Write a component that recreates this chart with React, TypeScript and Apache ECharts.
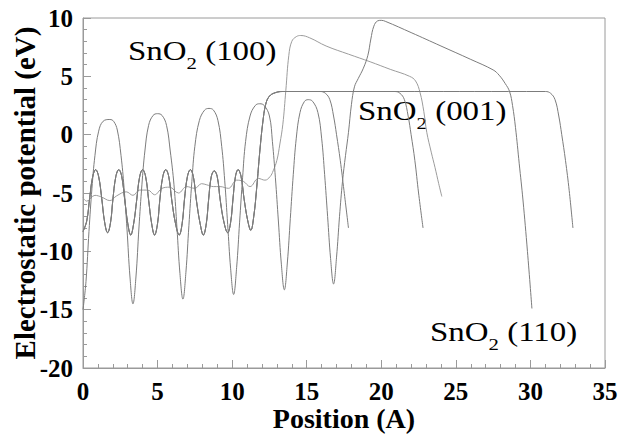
import React, { useEffect, useRef } from "react";
import * as echarts from "echarts";

// ---- data ----
const xTicks = [0, 5, 10, 15, 20, 25, 30, 35];
const yTicks = [-20, -15, -10, -5, 0, 5, 10];

// SnO2 (110): big oscillations, then surface and vacuum
const curve110: [number, number][] = [
  [0, -15.0], [0.2, -12.6], [0.4, -8.3], [0.6, -4.6], [0.8, -1.8], [1.05, 0.3], [1.35, 1.15], [1.8, 1.3],
  [2.05, 1.15], [2.3, 0.4], [2.55, -1.8], [2.75, -4.5], [2.95, -8.1], [3.15, -12.2], [3.35, -14.5],
  [3.55, -12.2], [3.75, -8.0], [3.95, -4.3], [4.15, -1.4], [4.4, 0.8], [4.7, 1.65], [5.0, 1.8],
  [5.3, 1.65], [5.6, 0.8], [5.85, -1.4], [6.1, -4.3], [6.3, -8.0], [6.5, -11.9], [6.7, -14.1],
  [6.9, -11.8], [7.1, -7.8], [7.3, -4.0], [7.5, -1.0], [7.8, 1.2], [8.15, 2.1], [8.45, 2.25],
  [8.75, 2.1], [9.05, 1.2], [9.3, -1.0], [9.5, -3.9], [9.7, -7.7], [9.9, -11.5], [10.1, -13.7],
  [10.3, -11.4], [10.5, -7.5], [10.7, -3.7], [10.9, -0.6], [11.2, 1.6], [11.55, 2.5], [11.85, 2.65],
  [12.15, 2.5], [12.5, 1.6], [12.7, -0.6], [12.9, -3.7], [13.1, -7.4], [13.3, -11.1], [13.5, -13.3],
  [13.7, -11.0], [13.9, -7.2], [14.1, -3.4], [14.3, -0.3], [14.55, 1.9], [14.85, 2.85], [15.1, 3.0],
  [15.4, 2.85], [15.75, 1.9], [16.0, -0.3], [16.2, -3.4], [16.4, -7.0], [16.6, -10.6], [16.8, -12.8],
  [17.0, -10.5], [17.2, -7.0], [17.4, -4.0], [17.6, -1.8], [17.8, 0.2], [18.0, 2.6], [18.2, 4.1],
  [18.45, 4.8], [18.8, 5.7], [19.1, 6.8], [19.3, 8.2], [19.5, 9.3], [19.75, 9.75], [20.0, 9.8],
  [20.3, 9.7], [22.0, 8.75], [24.0, 7.6], [26.0, 6.45], [27.5, 5.55], [27.9, 5.1], [28.3, 4.4],
  [28.6, 3.7], [28.8, 2.5], [29.0, 0.6], [29.25, -2.5], [29.5, -5.6], [29.8, -10.0], [30.1, -14.9],
];

// SnO2 (100): small ripples near -5, then surface and vacuum
const curve100: [number, number][] = [
  [0, -5.4], [0.25, -5.7], [0.8, -5.2], [1.25, -5.35], [1.8, -5.65], [2.25, -5.25], [2.9, -4.9],
  [3.35, -5.2], [3.8, -4.75], [4.35, -4.75], [4.8, -5.15], [5.3, -4.6], [5.8, -4.5], [6.4, -5.0],
  [6.95, -4.45], [7.5, -4.6], [7.95, -4.2], [8.3, -4.3], [8.74, -4.45], [9.19, -4.45], [9.75, -4.6],
  [10.3, -3.9], [10.75, -4.0], [11.2, -4.45], [11.76, -3.75], [12.2, -3.9], [12.54, -3.6],
  [12.75, -3.1], [13.0, -2.2], [13.2, -0.8], [13.4, 0.9], [13.6, 3.8], [13.8, 6.8], [14.0, 8.0],
  [14.3, 8.4], [14.6, 8.5], [15.2, 8.3], [16.3, 7.6], [17.8, 6.9], [19.25, 6.25], [20.6, 5.6],
  [21.9, 5.0], [22.3, 4.6], [22.6, 3.6], [22.85, 2.0], [23.05, 0.2], [23.35, -1.5], [23.6, -2.8],
  [23.85, -4.2], [24.06, -5.3],
];

// SnO2 (001): slab part shared by the three cells
const slab001: [number, number][] = [
  [0, -8.3], [0.25, -7.4], [0.45, -5.4], [0.65, -3.6], [0.85, -3.0], [1.05, -3.6], [1.25, -5.4], [1.45, -7.5], [1.65, -8.4],
  [1.85, -7.5], [2.0, -5.6], [2.2, -3.6], [2.4, -3.0], [2.6, -3.6], [2.8, -5.6], [3.0, -7.6], [3.2, -8.6],
  [3.4, -7.6], [3.6, -5.6], [3.8, -3.6], [4.0, -3.0], [4.2, -3.6], [4.4, -5.6], [4.6, -7.6], [4.8, -8.6],
  [5.0, -7.6], [5.15, -5.6], [5.35, -3.6], [5.55, -3.0], [5.75, -3.6], [5.95, -5.6], [6.2, -7.6], [6.45, -8.6],
  [6.65, -7.6], [6.8, -5.6], [7.0, -3.6], [7.2, -3.0], [7.4, -3.6], [7.6, -5.6], [7.85, -7.6], [8.07, -8.6],
  [8.27, -7.6], [8.42, -5.6], [8.6, -3.6], [8.8, -3.1], [9.0, -3.6], [9.2, -5.6], [9.45, -7.5], [9.7, -8.4],
  [9.9, -7.5], [10.05, -5.6], [10.22, -3.6], [10.4, -3.0], [10.6, -3.6], [10.8, -5.5], [11.05, -7.4], [11.25, -8.2],
  [11.45, -7.0], [11.65, -4.5], [11.85, -1.5], [12.05, 1.0], [12.25, 2.6], [12.5, 3.3], [12.9, 3.6], [13.4, 3.7],
];
const tail001a: [number, number][] = [
  [15.9, 3.7], [16.25, 3.55], [16.55, 3.0], [16.8, 1.6], [17.0, 0.0], [17.25, -2.2], [17.5, -4.8], [17.8, -8.0],
];
const tail001b: [number, number][] = [
  [20.9, 3.7], [21.25, 3.55], [21.55, 3.0], [21.8, 1.6], [22.0, 0.0], [22.25, -2.2], [22.5, -5.0], [22.8, -8.0],
];
const tail001c: [number, number][] = [
  [31.0, 3.7], [31.35, 3.55], [31.65, 3.0], [31.9, 1.6], [32.1, 0.0], [32.35, -2.2], [32.6, -4.8], [32.85, -8.0],
];

const labels = [
  { miller: "(100)", x: 128, baseline: 60 },
  { miller: "(001)", x: 358, baseline: 120 },
  { miller: "(110)", x: 430, baseline: 341 },
];

const SERIF = "Liberation Serif";

function labelGraphic(miller: string, x: number, baseline: number) {
  const f = 27;
  const fs = 17;
  const base = { fill: "#000", verticalAlign: "middle", align: "left", fontFamily: SERIF };
  return {
    type: "group",
    x,
    y: baseline,
    scaleX: 1.22,
    children: [
      { type: "text", x: 0, y: -0.3375 * f, style: { ...base, text: "SnO", fontSize: f } },
      { type: "text", x: 48, y: 9 - 0.3375 * fs, style: { ...base, text: "2", fontSize: fs } },
      { type: "text", x: 56.5, y: -0.3375 * f, style: { ...base, text: " " + miller, fontSize: f } },
    ],
  };
}

function lineSeries(name: string, data: [number, number][], color: string) {
  return {
    name,
    type: "line",
    data,
    showSymbol: false,
    smooth: 0.4,
    lineStyle: { width: 1, color },
    itemStyle: { color },
    z: 2,
  };
}

export default function App() {
  const ref = useRef<HTMLDivElement>(null);
  useEffect(() => {
    if (!ref.current) return;
    const chart = echarts.init(ref.current, null, { renderer: "svg" });
    const axisLabelStyle = {
      fontFamily: SERIF,
      fontWeight: "bold",
      fontSize: 25,
      color: "#000",
    };
    const tickColor = "#9a9a9a";
    chart.setOption({
      animation: false,
      backgroundColor: "#fff",
      grid: {
        left: 83,
        right: 17,
        top: 18,
        bottom: 66,
        show: true,
        borderColor: tickColor,
        borderWidth: 1,
        backgroundColor: "transparent",
        containLabel: false,
        outerBoundsMode: "none",
      },
      xAxis: {
        type: "value",
        min: xTicks[0],
        max: xTicks[xTicks.length - 1],
        interval: 5,
        name: "Position (A)",
        nameLocation: "middle",
        nameGap: 36,
        nameMoveOverlap: false,
        nameTextStyle: { fontFamily: SERIF, fontWeight: "bold", fontSize: 28, color: "#000" },
        axisLine: { show: true, onZero: false, lineStyle: { color: tickColor, width: 1 } },
        axisTick: { show: true, inside: true, length: 8, lineStyle: { color: tickColor } },
        minorTick: { show: true, splitNumber: 5, length: 4, lineStyle: { color: tickColor } },
        splitLine: { show: false },
        axisLabel: { ...axisLabelStyle, margin: 11 },
      },
      yAxis: {
        type: "value",
        min: yTicks[0],
        max: yTicks[yTicks.length - 1],
        interval: 5,
        name: "Electrostatic potential (eV)",
        nameLocation: "middle",
        nameGap: 44,
        nameMoveOverlap: false,
        nameRotate: 90,
        nameTextStyle: { fontFamily: SERIF, fontWeight: "bold", fontSize: 29, color: "#000" },
        axisLine: { show: true, onZero: false, lineStyle: { color: tickColor, width: 1 } },
        axisTick: { show: true, inside: true, length: 8, lineStyle: { color: tickColor } },
        minorTick: { show: true, splitNumber: 5, length: 4, lineStyle: { color: tickColor } },
        splitLine: { show: false },
        axisLabel: { ...axisLabelStyle, margin: 10 },
      },
      series: [
        lineSeries("SnO2 (100)", curve100, "#9c9c9c"),
        lineSeries("SnO2 (001) a", [...slab001, ...tail001a], "#7c7c7c"),
        lineSeries("SnO2 (001) b", [...slab001, ...tail001b], "#7c7c7c"),
        lineSeries("SnO2 (001) c", [...slab001, ...tail001c], "#7c7c7c"),
        lineSeries("SnO2 (110)", curve110, "#7c7c7c"),
      ],
      graphic: labels.map((l) => labelGraphic(l.miller, l.x, l.baseline)),
    });
    return () => chart.dispose();
  }, []);
  return (
    <div
      ref={ref}
      style={{ position: "fixed", left: 0, top: 0, width: 622, height: 434, background: "#fff" }}
    />
  );
}
